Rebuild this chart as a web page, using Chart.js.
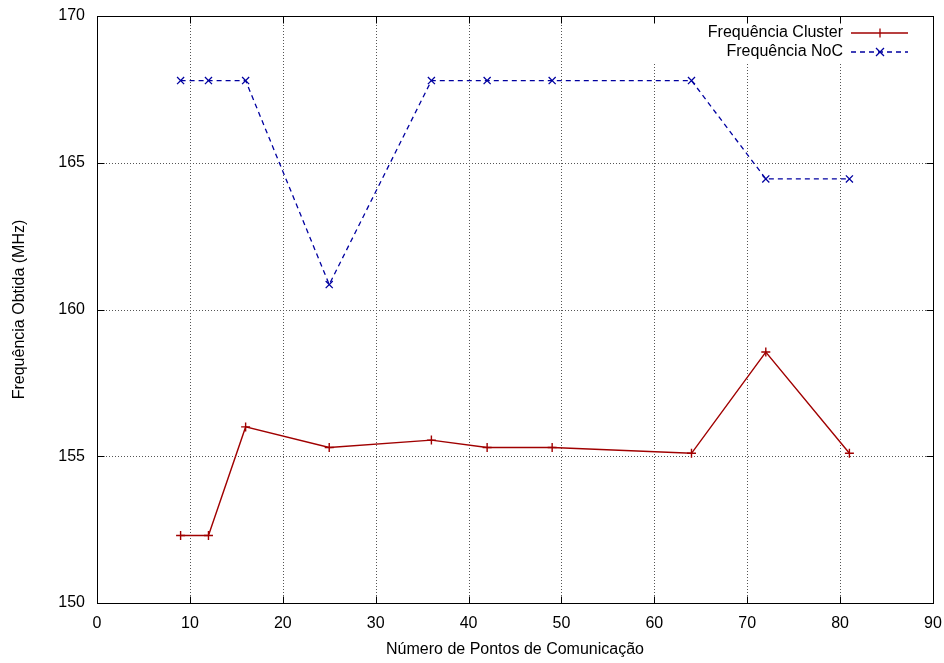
<!DOCTYPE html>
<html>
<head>
<meta charset="utf-8">
<script src="https://cdn.jsdelivr.net/npm/chart.js@4"></script>
<style>
  html, body { margin: 0; padding: 0; background: #fff; }
  #wrap { width: 944px; height: 663px; }
</style>
</head>
<body>
<div id="wrap"><canvas id="freqChart" width="944" height="663"></canvas></div>
<script>
// dados
const pontos = [9, 12, 16, 25, 36, 42, 49, 64, 72, 81];
const freqCluster = [152.3, 152.3, 156.0, 155.3, 155.55, 155.3, 155.3, 155.1, 158.55, 155.1];
const freqNoC = [167.8, 167.8, 167.8, 160.85, 167.8, 167.8, 167.8, 167.8, 164.45, 164.45];
const xTicks = [0, 10, 20, 30, 40, 50, 60, 70, 80, 90];
const yTicks = [150, 155, 160, 165, 170];

const corCluster = '#a00000';
const corNoC = '#0000a0';
const fonte = '"Liberation Sans", Arial, sans-serif';

// grade pontilhada, ticks para dentro, borda e legenda estilo gnuplot
const gnuplotStyle = {
  id: 'gnuplotStyle',
  beforeDatasetsDraw(chart) {
    const { ctx, chartArea: a, scales: { x, y } } = chart;
    ctx.save();
    ctx.strokeStyle = '#555';
    ctx.lineWidth = 1;
    ctx.setLineDash([1, 2]);
    xTicks.forEach(v => {
      if (v === 0 || v === 90) return;
      const px = Math.round(x.getPixelForValue(v)) + 0.5;
      ctx.beginPath(); ctx.moveTo(px, a.top); ctx.lineTo(px, a.bottom); ctx.stroke();
    });
    yTicks.forEach(v => {
      if (v === 150 || v === 170) return;
      const py = Math.round(y.getPixelForValue(v)) + 0.5;
      ctx.beginPath(); ctx.moveTo(a.left, py); ctx.lineTo(a.right, py); ctx.stroke();
    });
    // fundo da legenda
    ctx.setLineDash([]);
    ctx.fillStyle = '#fff';
    ctx.fillRect(646, a.top + 1, a.right - 647, 46);
    ctx.restore();
  },
  afterDatasetsDraw(chart) {
    const { ctx, chartArea: a, scales: { x, y } } = chart;
    ctx.save();
    ctx.setLineDash([]);
    ctx.strokeStyle = '#000';
    ctx.lineWidth = 1;
    const L = Math.round(a.left) + 0.5, R = Math.round(a.right) + 0.5;
    const T = Math.round(a.top) + 0.5, B = Math.round(a.bottom) + 0.5;
    ctx.strokeRect(L, T, R - L, B - T);
    ctx.beginPath();
    xTicks.forEach(v => {
      const px = Math.round(x.getPixelForValue(v)) + 0.5;
      ctx.moveTo(px, B); ctx.lineTo(px, B - 7);
      ctx.moveTo(px, T); ctx.lineTo(px, T + 7);
    });
    yTicks.forEach(v => {
      const py = Math.round(y.getPixelForValue(v)) + 0.5;
      ctx.moveTo(L, py); ctx.lineTo(L + 7, py);
      ctx.moveTo(R, py); ctx.lineTo(R - 7, py);
    });
    ctx.stroke();

    // legenda
    ctx.font = '16px ' + fonte;
    ctx.textAlign = 'right';
    ctx.textBaseline = 'middle';
    chart.data.datasets.forEach((ds, i) => {
      const ly = 33 + i * 19;
      ctx.fillStyle = '#000';
      ctx.fillText(ds.label, 843, ly);
      ctx.strokeStyle = ds.borderColor;
      ctx.lineWidth = 1.3;
      ctx.setLineDash(ds.borderDash || []);
      ctx.beginPath(); ctx.moveTo(851, ly); ctx.lineTo(908, ly); ctx.stroke();
      ctx.setLineDash([]);
      ctx.beginPath();
      if (ds.pointStyle === 'cross') {
        ctx.moveTo(880, ly - 4.5); ctx.lineTo(880, ly + 4.5);
      } else {
        ctx.moveTo(876, ly - 4); ctx.lineTo(884, ly + 4);
        ctx.moveTo(884, ly - 4); ctx.lineTo(876, ly + 4);
      }
      ctx.stroke();
    });
    ctx.restore();
  }
};

new Chart(document.getElementById('freqChart'), {
  type: 'line',
  data: {
    datasets: [{
      label: 'Frequência Cluster',
      data: pontos.map((p, i) => ({ x: p, y: freqCluster[i] })),
      borderColor: corCluster,
      backgroundColor: corCluster,
      borderWidth: 1.4,
      pointStyle: 'cross',
      pointRadius: 4.5,
      pointBorderWidth: 1.4,
      tension: 0
    }, {
      label: 'Frequência NoC',
      data: pontos.map((p, i) => ({ x: p, y: freqNoC[i] })),
      borderColor: corNoC,
      backgroundColor: corNoC,
      borderWidth: 1.3,
      borderDash: [5, 4],
      pointStyle: 'crossRot',
      pointRadius: 5,
      pointBorderWidth: 1.3,
      tension: 0
    }]
  },
  options: {
    responsive: false,
    animation: false,
    devicePixelRatio: 1,
    layout: { padding: { top: 16, right: 11, left: 0, bottom: 0 } },
    plugins: { legend: { display: false }, tooltip: { enabled: false } },
    scales: {
      x: {
        type: 'linear',
        min: 0, max: 90,
        afterBuildTicks: s => { s.ticks = xTicks.map(v => ({ value: v })); },
        afterFit: s => { s.height = 60; s.paddingLeft = 0; s.paddingRight = 0; },
        grid: { display: false, drawTicks: false },
        border: { display: false },
        ticks: { color: '#000', font: { family: fonte, size: 16 }, padding: 11, maxRotation: 0 },
        title: { display: true, text: 'Número de Pontos de Comunicação', color: '#000',
                 font: { family: fonte, size: 16 }, padding: { top: 5 } }
      },
      y: {
        min: 150, max: 170,
        afterBuildTicks: s => { s.ticks = yTicks.map(v => ({ value: v })); },
        afterFit: s => { s.width = 97; s.paddingTop = 0; s.paddingBottom = 0; },
        grid: { display: false, drawTicks: false },
        border: { display: false },
        ticks: { color: '#000', font: { family: fonte, size: 16 }, padding: 12 },
        title: { display: true, text: 'Frequência Obtida (MHz)', color: '#000',
                 font: { family: fonte, size: 16 }, padding: { top: 10, bottom: 0 } }
      }
    }
  },
  plugins: [gnuplotStyle]
});
</script>
</body>
</html>
